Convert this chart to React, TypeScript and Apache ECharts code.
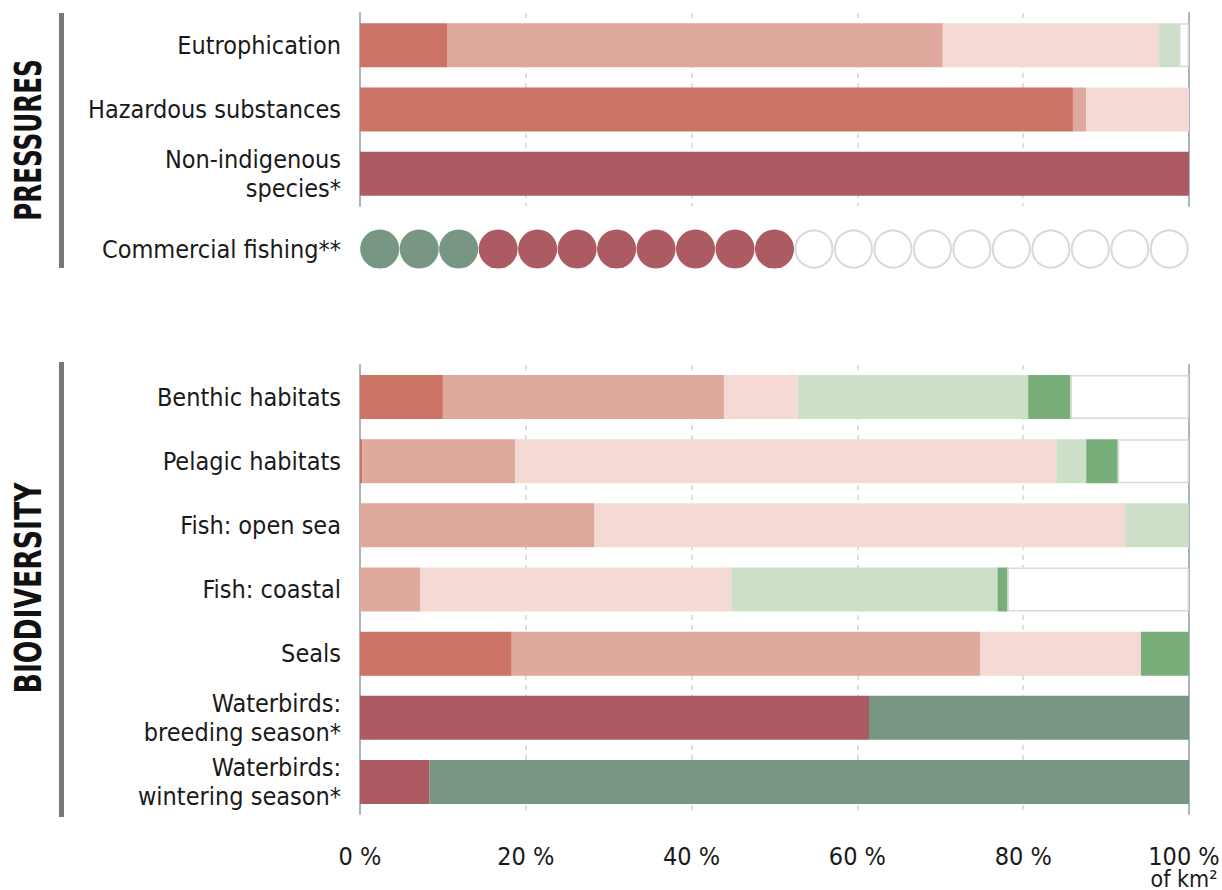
import React, { useEffect, useRef } from 'react';
import * as echarts from 'echarts';

// ---------- data ----------
const pressureCategories = ['Eutrophication', 'Hazardous substances', 'Non-indigenous\nspecies*'];
// share of km² (%) per status class
const pressureHigh = [10.5, 86.0, 0];
const pressureModerate = [59.8, 1.6, 0];
const pressureLow = [26.1, 12.4, 0];
const pressureGoodLight = [2.4, 0, 0];
const pressureGood = [0, 0, 0];
const pressureNotAssessed = [1.2, 0, 0];
const pressureNotGood = [0, 0, 100];
const pressureGoodOverall = [0, 0, 0];

const biodiversityCategories = [
  'Benthic habitats',
  'Pelagic habitats',
  'Fish: open sea',
  'Fish: coastal',
  'Seals',
  'Waterbirds:\nbreeding season*',
  'Waterbirds:\nwintering season*',
];
const bioHigh = [10.0, 0.3, 0, 0, 18.3, 0, 0];
const bioModerate = [33.9, 18.4, 28.3, 7.3, 56.5, 0, 0];
const bioLow = [8.9, 65.3, 64.0, 37.5, 19.4, 0, 0];
const bioGoodLight = [27.8, 3.6, 7.7, 32.1, 0, 0, 0];
const bioGood = [5.1, 3.8, 0, 1.2, 5.8, 0, 0];
const bioNotAssessed = [14.3, 8.6, 0, 21.9, 0, 0, 0];
const bioNotGood = [0, 0, 0, 0, 0, 61.4, 8.4];
const bioGoodOverall = [0, 0, 0, 0, 0, 38.6, 91.6];

const fishingLabel = ['Commercial fishing**'];
const fishingStocks = [
  'good', 'good', 'good',
  'bad', 'bad', 'bad', 'bad', 'bad', 'bad', 'bad', 'bad',
  'none', 'none', 'none', 'none', 'none', 'none', 'none', 'none', 'none', 'none',
];

const xTickValues = [0, 20, 40, 60, 80, 100];
const unitLabel = 'of km²';

// ---------- styles ----------
const FONT = "'DejaVu Sans Condensed', 'DejaVu Sans', sans-serif";
const TEXT = '#1a1a1a';
const C_HIGH = '#cb7364';
const C_MOD = '#dfa99d';
const C_LOW = '#f4d9d5';
const C_GLIGHT = '#cddfc9';
const C_GOOD = '#77ae7a';
const C_NOTGOOD = '#ad5b62';
const C_GOODALL = '#779683';
const AXIS_LINE = '#a9b4bd';
const GRID_LINE = '#d6d6d6';

const nz = (arr: number[]) => arr.map((v) => (v === 0 ? null : v));

function barSeries(name: string, data: number[], color: string, grid: number, white = false) {
  return {
    type: 'bar',
    name,
    stack: 'g' + grid,
    xAxisIndex: grid,
    yAxisIndex: grid * 2,
    barWidth: 44,
    data: nz(data),
    itemStyle: white
      ? { color: '#ffffff', borderColor: '#d9d9d9', borderWidth: 1.5 }
      : { color },
    emphasis: { disabled: true },
  };
}

function valueAxis(grid: number, showLabels: boolean) {
  const maxV = xTickValues[xTickValues.length - 1];
  return {
    gridIndex: grid,
    type: 'value',
    min: xTickValues[0],
    max: maxV,
    interval: xTickValues[1] - xTickValues[0],
    axisLine: { show: false },
    axisTick: { show: false },
    axisLabel: {
      show: showLabels,
      formatter: (v: number) =>
        v === maxV ? '{last|' + v + ' %}\n{unit|' + unitLabel + '}' : v + ' %',
      fontSize: 25,
      lineHeight: 24,
      fontFamily: FONT,
      color: TEXT,
      margin: 30,
      rich: {
        last: { fontSize: 25, lineHeight: 24, fontFamily: FONT, color: TEXT, padding: [0, 10, 0, 0] },
        unit: { fontSize: 23, lineHeight: 21, fontFamily: FONT, color: TEXT, padding: [0, 10, 0, 0] },
      },
    },
    splitLine: {
      show: true,
      lineStyle: {
        color: ['rgba(0,0,0,0)', GRID_LINE, GRID_LINE, GRID_LINE, GRID_LINE, 'rgba(0,0,0,0)'],
        type: [5, 5],
        width: 1.5,
      },
    },
  };
}

function catAxis(grid: number, data: string[], right: boolean) {
  return {
    gridIndex: grid,
    type: 'category',
    inverse: true,
    position: right ? 'right' : 'left',
    data,
    axisLine: { show: true, onZero: false, lineStyle: { color: AXIS_LINE, width: 2 } },
    axisTick: { show: false },
    axisLabel: right
      ? { show: false }
      : { show: true, fontSize: 25, lineHeight: 29, fontFamily: FONT, color: TEXT, margin: 19, align: 'right' },
    splitLine: { show: false },
  };
}

export default function App() {
  const ref = useRef<HTMLDivElement>(null);

  useEffect(() => {
    if (!ref.current) return;
    const chart = echarts.init(ref.current, undefined, { renderer: 'svg' });

    const fishingData = fishingStocks.map((s, i) => ({
      value: [i, 0],
      symbolSize: s === 'none' ? 37 : 39,
      itemStyle:
        s === 'good'
          ? { color: C_GOODALL, opacity: 1 }
          : s === 'bad'
          ? { color: C_NOTGOOD, opacity: 1 }
          : { color: '#ffffff', borderColor: '#d9d9d9', borderWidth: 2, opacity: 1 },
    }));

    const gridBase = { left: 360, right: 33, outerBoundsMode: 'none', containLabel: false };

    const option: any = {
      animation: false,
      backgroundColor: '#ffffff',
      textStyle: { fontFamily: FONT },
      grid: [
        { ...gridBase, top: 13, height: 193 },
        { ...gridBase, top: 365, height: 449 },
        { ...gridBase, top: 229, height: 40 },
      ],
      xAxis: [
        valueAxis(0, false),
        valueAxis(1, true),
        {
          gridIndex: 2,
          type: 'category',
          data: fishingStocks.map((_, i) => String(i)),
          show: false,
          boundaryGap: true,
        },
      ],
      yAxis: [
        catAxis(0, pressureCategories, false),
        catAxis(0, pressureCategories, true),
        catAxis(1, biodiversityCategories, false),
        catAxis(1, biodiversityCategories, true),
        {
          gridIndex: 2,
          type: 'category',
          data: fishingLabel,
          axisLine: { show: false },
          axisTick: { show: false },
          axisLabel: { fontSize: 25, fontFamily: FONT, color: TEXT, margin: 19 },
        },
      ],
      series: [
        barSeries('High', pressureHigh, C_HIGH, 0),
        barSeries('Moderate', pressureModerate, C_MOD, 0),
        barSeries('Low', pressureLow, C_LOW, 0),
        barSeries('Good (light)', pressureGoodLight, C_GLIGHT, 0),
        barSeries('Good', pressureGood, C_GOOD, 0),
        barSeries('Not assessed', pressureNotAssessed, '#fff', 0, true),
        barSeries('Not good', pressureNotGood, C_NOTGOOD, 0),
        barSeries('Good overall', pressureGoodOverall, C_GOODALL, 0),

        barSeries('High', bioHigh, C_HIGH, 1),
        barSeries('Moderate', bioModerate, C_MOD, 1),
        barSeries('Low', bioLow, C_LOW, 1),
        barSeries('Good (light)', bioGoodLight, C_GLIGHT, 1),
        barSeries('Good', bioGood, C_GOOD, 1),
        barSeries('Not assessed', bioNotAssessed, '#fff', 1, true),
        barSeries('Not good', bioNotGood, C_NOTGOOD, 1),
        barSeries('Good overall', bioGoodOverall, C_GOODALL, 1),

        {
          type: 'scatter',
          xAxisIndex: 2,
          yAxisIndex: 4,
          symbol: 'circle',
          data: fishingData,
          emphasis: { disabled: true },
        },
      ],
      graphic: [
        { type: 'rect', shape: { x: 59, y: 13, width: 5, height: 255 }, style: { fill: '#777777' } },
        { type: 'rect', shape: { x: 59, y: 362, width: 5, height: 455 }, style: { fill: '#777777' } },
        {
          type: 'text',
          x: 28,
          y: 140,
          rotation: Math.PI / 2,
          scaleX: 0.72,
          style: {
            text: 'PRESSURES',
            fontSize: 38,
            fontWeight: 'bold',
            fontFamily: FONT,
            fill: '#111111',
            align: 'center',
            verticalAlign: 'middle',
          },
        },
        {
          type: 'text',
          x: 28,
          y: 588,
          rotation: Math.PI / 2,
          scaleX: 0.78,
          style: {
            text: 'BIODIVERSITY',
            fontSize: 38,
            fontWeight: 'bold',
            fontFamily: FONT,
            fill: '#111111',
            align: 'center',
            verticalAlign: 'middle',
          },
        },
      ],
    };

    chart.setOption(option);
    return () => chart.dispose();
  }, []);

  return (
    <div
      ref={ref}
      style={{ position: 'fixed', left: 0, top: 0, width: 1222, height: 890, background: '#fff' }}
    />
  );
}
